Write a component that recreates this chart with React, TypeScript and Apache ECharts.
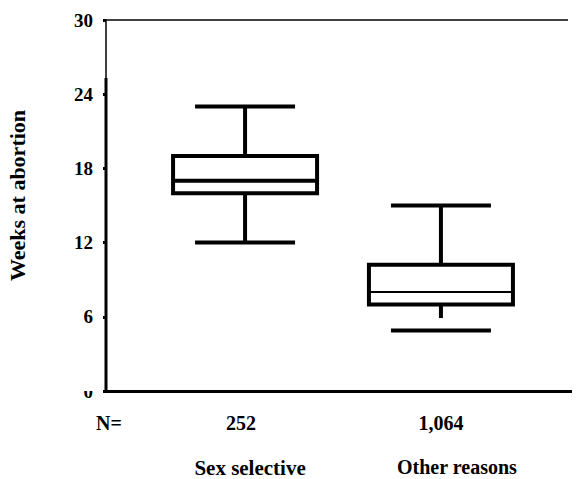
import React, { useEffect, useRef } from "react";
import * as echarts from "echarts";

const categories = ["Sex selective", "Other reasons"];
const counts = ["252", "1,064"];
const capLow = [12, 4.9];
const whiskerLow = [12, 5.9];
const q1 = [16, 7];
const median = [17, 8];
const q3 = [19, 10.2];
const high = [23, 15];

const FONT = '"Liberation Serif", "Times New Roman", serif';
const medianWidths = [4, 2];

export default function App() {
  const ref = useRef<HTMLDivElement>(null);
  useEffect(() => {
    if (!ref.current) return;
    const chart = echarts.init(ref.current, undefined, { renderer: "svg" });
    const data = categories.map((_, i) => [i, capLow[i], whiskerLow[i], q1[i], median[i], q3[i], high[i]]);
    const xCommon = {
      type: "value" as const,
      min: -0.71,
      max: 1.71,
      splitLine: { show: false },
      axisTick: { show: false },
    };
    chart.setOption({
      animation: false,
      backgroundColor: "#fff",
      grid: { left: 106, right: 0, top: 20, bottom: 88, containLabel: false, outerBoundsMode: "none" },
      xAxis: [
        {
          ...xCommon,
          position: "bottom",
          axisLine: { show: true, onZero: false, lineStyle: { color: "#000", width: 3 } },
          axisLabel: {
            customValues: [0, 1],
            margin: 22,
            formatter: (v: number) => {
              const i = Math.round(v);
              return i === 0 ? `{a|${counts[i]}}` : `{b|${counts[i]}}`;
            },
            rich: {
              a: { fontFamily: FONT, fontWeight: "bold", fontSize: 20, color: "#000", padding: [0, 8, 0, 0] },
              b: { fontFamily: FONT, fontWeight: "bold", fontSize: 20, color: "#000" },
            },
          },
        },
        {
          ...xCommon,
          position: "bottom",
          axisLine: { show: false, onZero: false },
          axisLabel: {
            customValues: [0, 1],
            margin: 66,
            formatter: (v: number) => {
              const i = Math.round(v);
              return i === 0 ? `{a|${categories[i]}}` : `{b|${categories[i]}}`;
            },
            rich: {
              a: { fontFamily: FONT, fontWeight: "bold", fontSize: 21, color: "#000", padding: [0, 0, 0, 10] },
              b: { fontFamily: FONT, fontWeight: "bold", fontSize: 20, color: "#000", padding: [0, 0, 0, 32] },
            },
          },
        },
      ],
      yAxis: {
        type: "value",
        min: 0,
        max: 30,
        interval: 6,
        name: "Weeks at abortion",
        nameLocation: "middle",
        nameGap: 78,
        nameTextStyle: { fontFamily: FONT, fontWeight: "bold", fontSize: 22, color: "#000", padding: [0, 0, 0, 20] },
        splitLine: { show: false },
        axisLine: { show: true, onZero: false, lineStyle: { color: "#000", width: 1.5 } },
        axisTick: { show: true, length: 3, lineStyle: { color: "#000", width: 3 } },
        axisLabel: { fontFamily: FONT, fontWeight: "bold", fontSize: 19, color: "#000", margin: 13 },
      },
      graphic: [
        { type: "line", z: 100, shape: { x1: 104, y1: 20, x2: 568, y2: 20 }, style: { stroke: "#000", lineWidth: 1.5 } },
        { type: "line", z: 100, shape: { x1: 106, y1: 78, x2: 106, y2: 392 }, style: { stroke: "#000", lineWidth: 3 } },
        { type: "rect", z: 100, shape: { x: 76, y: 368, width: 24, height: 23 }, style: { fill: "#fff" } },
        {
          type: "text",
          z: 100,
          x: 96,
          y: 413,
          style: { text: "N=", font: `bold 20px ${FONT}`, fill: "#000" },
        },
      ],
      series: [
        {
          type: "custom",
          xAxisIndex: 0,
          clip: false,
          data,
          encode: { x: 0, y: [1, 2, 3, 4, 5, 6] },
          renderItem: (params: any, api: any) => {
            const i = params.dataIndex;
            const cx = api.coord([api.value(0), 0])[0];
            const py = (v: number) => api.coord([api.value(0), v])[1];
            const yCap = py(api.value(1));
            const yWl = py(api.value(2));
            const yQ1 = py(api.value(3));
            const yMed = py(api.value(4));
            const yQ3 = py(api.value(5));
            const yHi = py(api.value(6));
            const st = { stroke: "#000", lineWidth: 4, fill: null };
            return {
              type: "group",
              children: [
                { type: "line", shape: { x1: cx, y1: yQ3, x2: cx, y2: yHi }, style: st },
                { type: "line", shape: { x1: cx - 50, y1: yHi, x2: cx + 50, y2: yHi }, style: st },
                { type: "line", shape: { x1: cx, y1: yQ1, x2: cx, y2: yWl }, style: st },
                { type: "line", shape: { x1: cx - 50, y1: yCap, x2: cx + 50, y2: yCap }, style: st },
                {
                  type: "rect",
                  shape: { x: cx - 72, y: yQ3, width: 144, height: yQ1 - yQ3 },
                  style: { stroke: "#000", lineWidth: 4, fill: "#fff" },
                },
                {
                  type: "line",
                  shape: { x1: cx - 72, y1: yMed, x2: cx + 72, y2: yMed },
                  style: { stroke: "#000", lineWidth: medianWidths[i] },
                },
              ],
            };
          },
        },
      ],
    });
    return () => chart.dispose();
  }, []);
  return <div ref={ref} style={{ width: 580, height: 479, marginLeft: -8, marginTop: -8 }} />;
}
